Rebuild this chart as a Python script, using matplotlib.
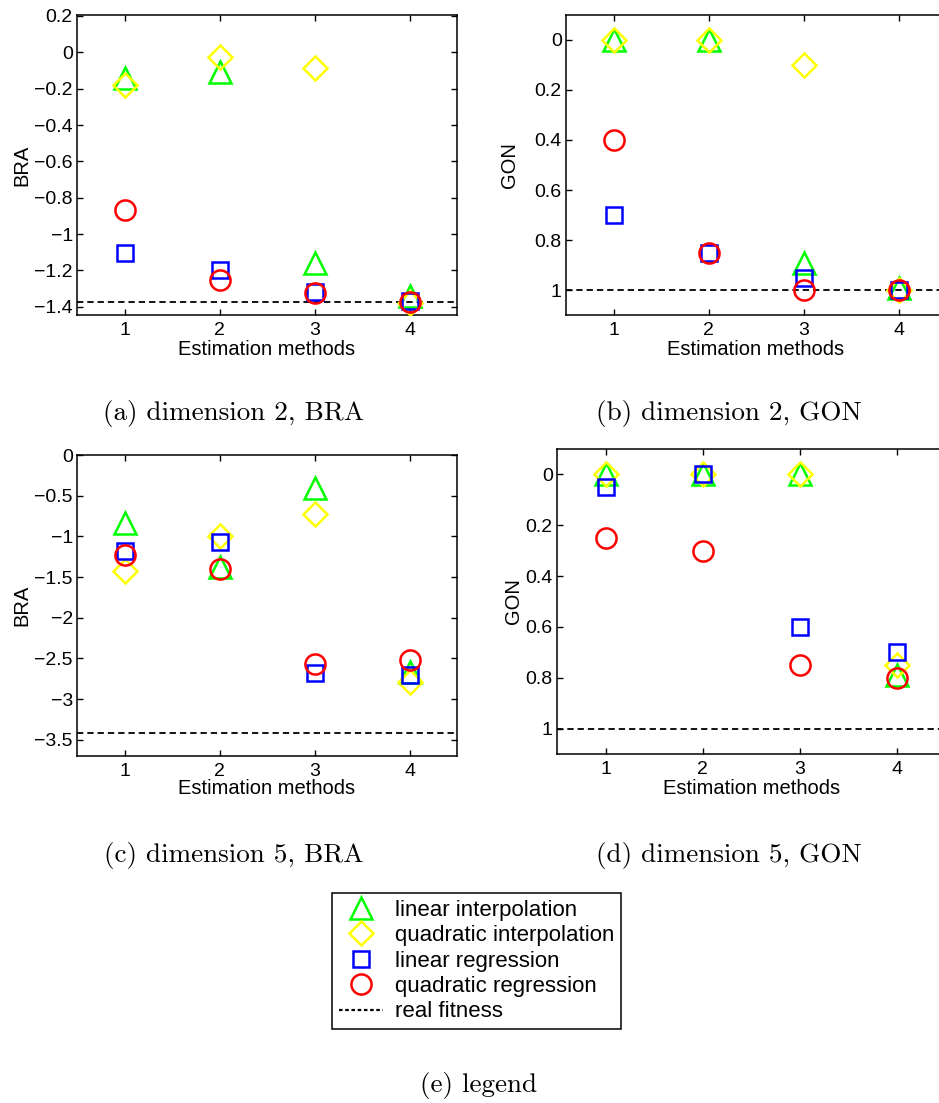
import numpy as np
import matplotlib as mpl
mpl.use('Agg')
import matplotlib.pyplot as plt
from matplotlib.ticker import FuncFormatter
from matplotlib.lines import Line2D

plt.rcParams['font.family'] = ['Liberation Sans', 'DejaVu Sans']

methods = [1, 2, 3, 4]
labels = ['linear interpolation', 'quadratic interpolation',
          'linear regression', 'quadratic regression', 'real fitness']

# dimension 2, BRA
bra2_lin_interp = [-0.14, -0.11, -1.16, -1.34]
bra2_quad_interp = [-0.18, -0.025, -0.085, -1.38]
bra2_lin_reg = [-1.105, -1.20, -1.32, -1.37]
bra2_quad_reg = [-0.87, -1.25, -1.325, -1.375]
bra2_real = -1.376

# dimension 2, GON
gon2_lin_interp = [0.0, 0.0, 0.89, 0.99]
gon2_quad_interp = [0.0, 0.0, 0.10, 1.0]
gon2_lin_reg = [0.70, 0.85, 0.95, 1.0]
gon2_quad_reg = [0.40, 0.85, 1.0, 1.0]
gon2_real = 1.0

# dimension 5, BRA
bra5_lin_interp = [-0.83, -1.38, -0.41, -2.67]
bra5_quad_interp = [-1.43, -1.00, -0.73, -2.79]
bra5_lin_reg = [-1.18, -1.07, -2.68, -2.70]
bra5_quad_reg = [-1.23, -1.40, -2.57, -2.52]
bra5_real = -3.42

# dimension 5, GON
gon5_lin_interp = [0.0, 0.0, 0.0, 0.79]
gon5_quad_interp = [0.0, 0.0, 0.0, 0.75]
gon5_lin_reg = [0.05, 0.0, 0.60, 0.70]
gon5_quad_reg = [0.25, 0.30, 0.75, 0.80]
gon5_real = 1.0

W, H = 939, 1103

STYLES = [
    dict(marker='^', color=(0, 1, 0), ms=16),
    dict(marker='D', color=(1, 1, 0), ms=12),
    dict(marker='s', color=(0, 0, 1), ms=12),
    dict(marker='o', color=(1, 0, 0), ms=14.5),
]
DASH = (0, (3.5, 2.2))


def fmt(v, pos):
    s = '%g' % round(v, 6)
    if s == '-0':
        s = '0'
    return s.replace('-', '\u2212')


def box(left, top, right, bottom):
    return [left / W, 1 - bottom / H, (right - left) / W, (bottom - top) / H]


def draw_panel(fig, rect, series, real, ylim, yticks, ylabel, ylab_x, xlab_y, invert=False):
    ax = fig.add_axes(rect)
    ax.axhline(real, color='k', lw=1.3, linestyle=DASH, zorder=1)
    for vals, st in zip(series, STYLES):
        ax.plot(methods, vals, linestyle='none', marker=st['marker'], ms=st['ms'],
                mfc='none', mec=st['color'], mew=1.8, zorder=3)
    ax.set_xlim(0.5, 4.5)
    ax.set_ylim(*ylim)
    if invert:
        ax.invert_yaxis()
    ax.set_xticks(methods)
    ax.set_yticks(yticks)
    ax.yaxis.set_major_formatter(FuncFormatter(fmt))
    ax.tick_params(direction='in', length=4, width=1, top=True, right=True,
                   labelsize=14)
    ax.tick_params(axis='x', pad=5)
    ax.tick_params(axis='y', pad=3)
    for sp in ax.spines.values():
        sp.set_linewidth(1.1)
    ax.set_xlabel('Estimation methods', fontsize=14.5)
    ax.set_ylabel(ylabel, fontsize=14.5)
    ax.xaxis.label.set_verticalalignment('center')
    ax.xaxis.set_label_coords(0.5, xlab_y)
    ax.yaxis.label.set_verticalalignment('center')
    ax.yaxis.set_label_coords(ylab_x, 0.5)
    return ax


fig = plt.figure(figsize=(W / 100, H / 100), dpi=100)

draw_panel(fig, box(77, 15, 457, 315),
           [bra2_lin_interp, bra2_quad_interp, bra2_lin_reg, bra2_quad_reg], bra2_real,
           (-1.445, 0.205), np.arange(-1.4, 0.21, 0.2), 'BRA',
           (22 - 77) / 380, -34 / 300)
draw_panel(fig, box(566, 15, 946, 315),
           [gon2_lin_interp, gon2_quad_interp, gon2_lin_reg, gon2_quad_reg], gon2_real,
           (-0.1, 1.1), np.arange(0, 1.01, 0.2), 'GON',
           (509 - 566) / 380, -34 / 300, invert=True)
draw_panel(fig, box(77, 455, 457, 756),
           [bra5_lin_interp, bra5_quad_interp, bra5_lin_reg, bra5_quad_reg], bra5_real,
           (-3.7, 0.0), np.arange(-3.5, 0.01, 0.5), 'BRA',
           (22 - 77) / 380, -33 / 301)
draw_panel(fig, box(557, 449, 946, 754),
           [gon5_lin_interp, gon5_quad_interp, gon5_lin_reg, gon5_quad_reg], gon5_real,
           (-0.1, 1.1), np.arange(0, 1.01, 0.2), 'GON',
           (514 - 557) / 389, -35 / 305, invert=True)

# shared legend
handles = [Line2D([], [], linestyle='none', marker=st['marker'], ms=st['ms'],
                  mfc='none', mec=st['color'], mew=1.8) for st in STYLES]
handles.append(Line2D([], [], color='k', lw=1.6, linestyle=(0, (1.6, 1.2))))
leg = fig.legend(handles, labels, loc='upper left', bbox_to_anchor=(332 / W, 1 - 893 / H),
                 fontsize=16, frameon=True, fancybox=False, framealpha=1,
                 edgecolor='k', borderpad=0.3, labelspacing=0.2,
                 handlelength=2.0, handletextpad=0.55, borderaxespad=0)
leg.get_frame().set_linewidth(1.1)

# sub-figure captions
cap = dict(fontfamily='cmr10', fontsize=19.5, ha='center', va='baseline')
fig.text(234 / W, 1 - 420 / H, '(a) dimension 2, BRA', **cap)
fig.text(729 / W, 1 - 420 / H, '(b) dimension 2, GON', **cap)
fig.text(234 / W, 1 - 862 / H, '(c) dimension 5, BRA', **cap)
fig.text(729 / W, 1 - 862 / H, '(d) dimension 5, GON', **cap)
fig.text(479 / W, 1 - 1092 / H, '(e) legend', **cap)

fig.savefig('out.png', dpi=100)
